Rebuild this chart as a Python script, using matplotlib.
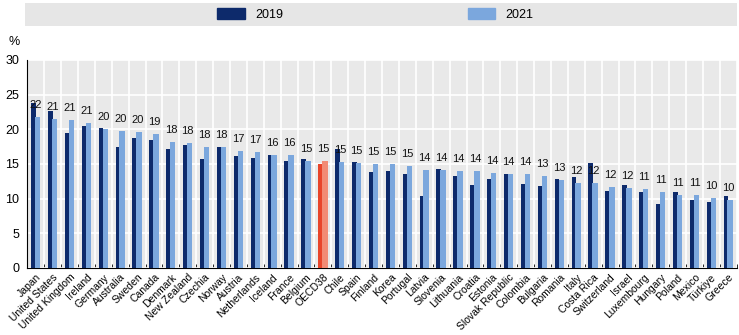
import numpy as np
import matplotlib
matplotlib.use("Agg")
import matplotlib.pyplot as plt
from matplotlib.patches import Rectangle, Patch

plt.rcParams['font.family'] = ['Liberation Sans', 'DejaVu Sans']

countries = ["Japan", "United States", "United Kingdom", "Ireland", "Germany", "Australia",
             "Sweden", "Canada", "Denmark", "New Zealand", "Czechia", "Norway", "Austria",
             "Netherlands", "Iceland", "France", "Belgium", "OECD38", "Chile", "Spain",
             "Finland", "Korea", "Portugal", "Latvia", "Slovenia", "Lithuania", "Croatia",
             "Estonia", "Slovak Republic", "Colombia", "Bulgaria", "Romania", "Italy",
             "Costa Rica", "Switzerland", "Israel", "Luxembourg", "Hungary", "Poland",
             "Mexico", "Türkiye", "Greece"]
v2019 = [23.8, 22.6, 19.5, 20.5, 20.15, 17.5, 18.8, 18.5, 17.1, 17.75, 15.7, 17.5, 16.15,
         15.9, 16.3, 15.4, 15.7, 15.0, 17.2, 15.25, 13.8, 14.0, 13.6, 10.4, 14.3, 13.2, 12.0,
         12.85, 13.55, 12.1, 11.8, 12.8, 13.1, 15.2, 11.15, 11.9, 10.9, 9.3, 10.95, 9.8,
         9.5, 10.45]
v2021 = [21.8, 21.45, 21.35, 20.9, 20.0, 19.7, 19.6, 19.3, 18.2, 18.0, 17.5, 17.5, 16.9,
         16.7, 16.3, 16.3, 15.45, 15.45, 15.25, 15.15, 15.0, 15.0, 14.7, 14.2, 14.15, 14.05,
         14.0, 13.75, 13.55, 13.55, 13.3, 12.75, 12.3, 12.3, 11.7, 11.55, 11.45, 10.95,
         10.55, 10.55, 10.1, 9.8]
labels = [22, 21, 21, 21, 20, 20, 20, 19, 18, 18, 18, 18, 17, 17, 16, 16, 15, 15, 15, 15,
          15, 15, 15, 14, 14, 14, 14, 14, 14, 14, 13, 13, 12, 12, 12, 12, 11, 11, 11, 11,
          10, 10]

dark = '#0d2a6b'
light = '#7ba7dd'
oecd_dark = '#e8452a'
oecd_light = '#f28b74'
x = np.arange(len(countries))
c19 = [oecd_dark if c == "OECD38" else dark for c in countries]
c21 = [oecd_light if c == "OECD38" else light for c in countries]

fig = plt.figure(figsize=(7.39, 3.35), dpi=100)
ax = fig.add_axes([0.037, 0.2, 0.96, 0.621])
ax.set_facecolor('#e9e9e9')

ax.bar(x - 0.14, v2019, width=0.28, color=c19, zorder=3, label='2019')
ax.bar(x + 0.11, v2021, width=0.32, color=c21, zorder=3, label='2021')

for i, lab in enumerate(labels):
    ax.annotate(str(lab), (x[i], v2021[i]), xytext=(0, 5), textcoords='offset points',
                ha='center', va='bottom', fontsize=8, color='#111111', zorder=4)

ax.set_xlim(-0.5, len(countries) - 0.5)
ax.set_ylim(0, 30)
ax.set_yticks(range(0, 31, 5))
ax.set_xticks(x)
ax.set_xticklabels(countries, rotation=45, ha='right', rotation_mode='anchor', fontsize=7.5)
ax.set_xticks(np.arange(-0.5, len(countries), 1), minor=True)
ax.tick_params(axis='x', which='major', length=0, pad=3)
ax.tick_params(axis='x', which='minor', length=3, direction='in', color='black')
ax.tick_params(axis='y', length=0, labelsize=9, pad=6)
ax.grid(axis='y', color='white', linewidth=1.2, zorder=1)
ax.grid(axis='x', which='minor', color='white', linewidth=1.2, zorder=1)
for s in ['top', 'right']:
    ax.spines[s].set_visible(False)
ax.spines['left'].set_color('black')
ax.spines['bottom'].set_color('black')
ax.spines['left'].set_linewidth(0.8)
ax.spines['bottom'].set_linewidth(0.8)

fig.text(0.012, 0.865, '%', fontsize=9)

# legend band
fig.patches.append(Rectangle((0.034, 0.922), 0.963, 0.068, transform=fig.transFigure,
                             facecolor='#e6e6e6', edgecolor='none', zorder=0))
handles = [Patch(color=dark, label='2019'), Patch(color=light, label='2021')]
fig.legend(handles=handles, loc='center', bbox_to_anchor=(0.508, 0.956), ncol=2,
           frameon=False, fontsize=9, columnspacing=14.8, handlelength=2.2, handleheight=0.9,
           handletextpad=0.8)

fig.savefig('out.png', dpi=100)
